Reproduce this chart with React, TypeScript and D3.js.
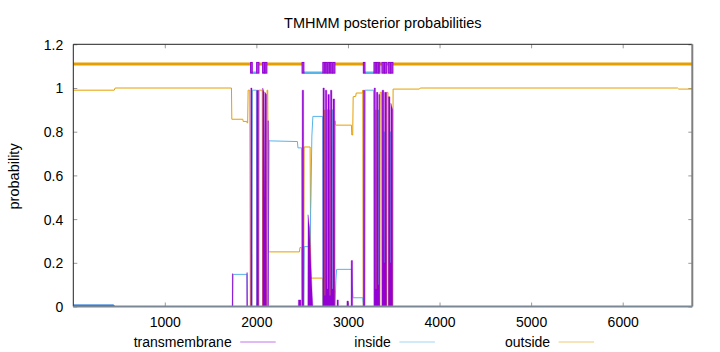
import React, { useEffect, useRef } from 'react';
import * as d3 from 'd3';

type Pt = [number, number];

// [residue, posterior probability] breakpoints
const transmembrane: Pt[] = [
  [1, 0.006], [440, 0.006], [456, 0],
  [1737, 0], [1738, 0.15], [1744, 0.15], [1745, 0],
  [1895, 0], [1896, 0.155], [1901, 0.155], [1902, 0],
  [1938, 0], [1939, 1], [1952, 1], [1953, 0],
  [2003, 0], [2004, 0.99], [2024, 0.99], [2025, 0],
  [2068, 0], [2069, 1], [2085, 0.98], [2088, 0.45], [2094, 0.98], [2110, 0.97], [2111, 0],
  [2125, 0], [2126, 0.85], [2131, 0.85], [2132, 0],
  [2458, 0], [2459, 0.03], [2486, 0.03], [2487, 0],
  [2499, 0], [2500, 0.99], [2516, 0.99], [2517, 0],
  [2562, 0], [2564, 0.42], [2580, 0.36], [2595, 0.2], [2610, 0.05], [2617, 0],
  [2726, 0], [2727, 1], [2742, 1], [2744, 0.05], [2752, 0.05], [2753, 0.99], [2769, 0.99], [2771, 0.08],
  [2780, 0.08], [2781, 0.97], [2797, 0.97], [2799, 0.05], [2808, 0.05], [2809, 0.99], [2825, 0.99], [2827, 0.08],
  [2836, 0.08], [2837, 0.95], [2855, 0.95], [2856, 0],
  [2880, 0], [2881, 0.03], [2895, 0.03], [2896, 0],
  [2988, 0], [2989, 0.025], [3005, 0.025], [3006, 0],
  [3034, 0], [3035, 0.21], [3050, 0.21], [3051, 0],
  [3168, 0], [3169, 0.99], [3183, 0.99], [3184, 0],
  [3285, 0], [3286, 1], [3300, 1], [3302, 0.08], [3310, 0.08], [3311, 0.98], [3327, 0.98], [3329, 0.1],
  [3336, 0.1], [3337, 0.97], [3347, 0.97], [3348, 0],
  [3372, 0], [3373, 0.99], [3391, 0.99], [3393, 0.2], [3400, 0.2], [3401, 0.98], [3421, 0.98], [3422, 0],
  [3441, 0], [3442, 0.96], [3459, 0.96], [3461, 0.2], [3468, 0.2], [3469, 0.93], [3488, 0.9], [3489, 0],
  [6760, 0],
];

const inside: Pt[] = [
  [1, 0.008], [440, 0.008], [456, 0],
  [1738, 0], [1744, 0.147], [1896, 0.147], [1902, 0],
  [1951, 0], [1956, 0.99], [2000, 0.99], [2005, 0],
  [2085, 0], [2089, 0.5], [2094, 0],
  [2124, 0], [2132, 0.3], [2140, 0.76], [2150, 0.758], [2448, 0.755], [2454, 0.726], [2494, 0.726], [2499, 0],
  [2517, 0], [2522, 0.274], [2585, 0.274], [2596, 0.5], [2606, 0.78], [2617, 0.87], [2724, 0.87], [2728, 0],
  [2769, 0], [2773, 0.9], [2779, 0.9], [2782, 0],
  [2825, 0], [2829, 0.9], [2835, 0.9], [2838, 0],
  [2859, 0], [2868, 0.12], [2876, 0.17], [3040, 0.17], [3046, 0.1], [3055, 0.04], [3162, 0.04], [3170, 0],
  [3183, 0], [3188, 0.99], [3281, 0.99], [3286, 0],
  [3327, 0], [3331, 0.9], [3337, 0],
  [3391, 0], [3395, 0.8], [3401, 0],
  [3459, 0], [3463, 0.8], [3469, 0],
  [6760, 0],
];

const outside: Pt[] = [
  [1, 0.99], [448, 0.99], [458, 1], [1728, 1], [1732, 0.857], [1852, 0.857], [1856, 0.847],
  [1895, 0.847], [1900, 0.84], [1905, 0.84], [1910, 0.99], [1928, 0.99], [1934, 0],
  [2026, 0], [2030, 0.99], [2064, 0.99], [2069, 0],
  [2112, 0], [2117, 0.99], [2124, 0.99], [2132, 0.25], [2470, 0.25], [2476, 0.27], [2494, 0.27], [2499, 0],
  [2516, 0], [2521, 0.73], [2587, 0.73], [2594, 0.13], [2724, 0.13], [2728, 0],
  [2743, 0], [2747, 0.9], [2753, 0],
  [2797, 0], [2802, 0.9], [2808, 0],
  [2854, 0], [2860, 0.85], [2866, 0.83], [3038, 0.83], [3042, 0.785], [3052, 0.785], [3057, 0.96],
  [3085, 0.962], [3090, 0.977], [3158, 0.977], [3162, 0.99], [3167, 0],
  [3301, 0], [3305, 0.9], [3311, 0],
  [3347, 0], [3351, 0.98], [3368, 0.98], [3373, 0],
  [3421, 0], [3425, 0.98], [3437, 0.98], [3442, 0],
  [3488, 0], [3493, 0.995], [3780, 0.995], [3790, 1], [6600, 1], [6612, 0.995], [6760, 0.995],
];

// predicted topology shown along the top: [start, end, state]
const topology: [number, number, string][] = [
  [1, 1937, 'out'], [1937, 1955, 'tm'], [1955, 2003, 'in'], [2003, 2028, 'tm'], [2028, 2068, 'out'],
  [2068, 2088, 'tm'], [2088, 2096, 'in'], [2096, 2115, 'tm'], [2115, 2499, 'out'], [2499, 2519, 'tm'],
  [2519, 2726, 'in'], [2726, 2746, 'tm'], [2746, 2752, 'out'], [2752, 2772, 'tm'], [2772, 2779, 'in'],
  [2779, 2800, 'tm'], [2800, 2807, 'out'], [2807, 2828, 'tm'], [2828, 2835, 'in'], [2835, 2858, 'tm'],
  [2858, 3168, 'out'], [3168, 3186, 'tm'], [3186, 3284, 'in'], [3284, 3304, 'tm'], [3304, 3310, 'out'],
  [3310, 3330, 'tm'], [3330, 3336, 'in'], [3336, 3349, 'tm'], [3349, 3371, 'out'], [3371, 3394, 'tm'],
  [3394, 3400, 'in'], [3400, 3424, 'tm'], [3424, 3440, 'out'], [3440, 3462, 'tm'], [3462, 3468, 'in'],
  [3468, 3491, 'tm'], [3491, 6760, 'out'],
];

const seqLength = 6760;
const xTicks = [1000, 2000, 3000, 4000, 5000, 6000];
const yTicks = [0, 0.2, 0.4, 0.6, 0.8, 1, 1.2];
const seriesNames = ['transmembrane', 'inside', 'outside'];

const PURPLE = '#9400d3';
const BLUE = '#56b4e9';
const ORANGE = '#e69f00';

const App: React.FC = () => {
  const chartRef = useRef<SVGSVGElement | null>(null);

  useEffect(() => {
    document.body.style.margin = '0';
    const width = 720;
    const height = 352;
    const margin = { top: 44.3, right: 27.7, bottom: 45.5, left: 73.3 };

    const svg = d3.select(chartRef.current);
    svg.selectAll('*').remove();
    svg.attr('width', width).attr('height', height)
      .style('font-family', '"Liberation Sans", Arial, sans-serif');

    const x = d3.scaleLinear().domain([1, seqLength]).range([margin.left, width - margin.right]);
    const y = d3.scaleLinear().domain([0, 1.2]).range([height - margin.bottom, margin.top]);

    svg.append('defs').append('clipPath').attr('id', 'plot-clip')
      .append('rect')
      .attr('x', margin.left).attr('y', margin.top)
      .attr('width', width - margin.left - margin.right)
      .attr('height', height - margin.top - margin.bottom);

    // ticks (inside, mirrored)
    const yAxis = svg.append('g').attr('transform', `translate(${margin.left},0)`)
      .call(d3.axisLeft(y).tickValues(yTicks).tickSize(-4).tickPadding(10).tickFormat(d3.format('')));
    svg.append('g').attr('transform', `translate(${width - margin.right},0)`)
      .call(d3.axisRight(y).tickValues(yTicks).tickSize(-4).tickFormat(() => ''));
    const xAxis = svg.append('g').attr('transform', `translate(0,${height - margin.bottom})`)
      .call(d3.axisBottom(x).tickValues(xTicks).tickSize(-4).tickPadding(10).tickFormat(d3.format('d')));
    svg.append('g').attr('transform', `translate(0,${margin.top})`)
      .call(d3.axisTop(x).tickValues(xTicks).tickSize(-4).tickFormat(() => ''));
    svg.selectAll('.domain').remove();
    svg.selectAll('.tick line').attr('stroke', '#999');
    svg.selectAll('.tick text').attr('fill', '#000').attr('font-size', 14)
      .attr('font-family', '"Liberation Sans", Arial, sans-serif');
    yAxis.selectAll('.tick text').attr('dy', '0.35em');
    xAxis.selectAll('.tick text').attr('dy', '0.75em');

    const plot = svg.append('g').attr('clip-path', 'url(#plot-clip)');

    const line = d3.line<Pt>().x(d => x(d[0])).y(d => y(d[1]));
    const area = d3.area<Pt>().x(d => x(d[0])).y0(y(0)).y1(d => y(d[1]));

    plot.append('path').datum(outside)
      .attr('d', line).attr('fill', 'none').attr('stroke', ORANGE).attr('stroke-width', 1);
    plot.append('path').datum(inside)
      .attr('d', line).attr('fill', 'none').attr('stroke', BLUE).attr('stroke-width', 1);
    plot.append('path').datum(transmembrane)
      .attr('d', area).attr('fill', PURPLE).attr('stroke', PURPLE)
      .attr('stroke-width', 0.6).attr('stroke-opacity', 0.6);

    // topology line
    plot.selectAll('line.topo')
      .data(topology.filter(d => d[2] !== 'tm'))
      .enter().append('line')
      .attr('x1', d => x(d[0])).attr('x2', d => x(d[1]))
      .attr('y1', d => y(d[2] === 'out' ? 1.11 : 1.07))
      .attr('y2', d => y(d[2] === 'out' ? 1.11 : 1.07))
      .attr('stroke', d => (d[2] === 'out' ? ORANGE : BLUE))
      .attr('stroke-width', d => (d[2] === 'out' ? 3 : 2.5));
    plot.selectAll('rect.tm')
      .data(topology.filter(d => d[2] === 'tm'))
      .enter().append('rect')
      .attr('x', d => x(d[0])).attr('width', d => x(d[1]) - x(d[0]))
      .attr('y', y(1.117)).attr('height', y(1.068) - y(1.117))
      .attr('fill', PURPLE).attr('fill-opacity', 0.75)
      .attr('stroke', PURPLE).attr('stroke-width', 1);

    // border
    const L = margin.left, R = width - margin.right, T = margin.top, B = height - margin.bottom;
    svg.append('line').attr('x1', L).attr('x2', L).attr('y1', T).attr('y2', B).attr('stroke', '#222');
    svg.append('line').attr('x1', L).attr('x2', R).attr('y1', T).attr('y2', T).attr('stroke', '#222');
    svg.append('line').attr('x1', R).attr('x2', R).attr('y1', T).attr('y2', B).attr('stroke', '#7f7f7f').attr('stroke-width', 2);
    svg.append('line').attr('x1', L).attr('x2', R).attr('y1', B).attr('y2', B).attr('stroke', '#7a8794').attr('stroke-width', 2);

    svg.append('text')
      .attr('x', (L + R) / 2).attr('y', 27.5)
      .attr('text-anchor', 'middle').attr('font-size', 14.5)
      .text('TMHMM posterior probabilities');

    svg.append('text')
      .attr('transform', `translate(13.5,${(T + B) / 2 + 1}) rotate(-90)`)
      .attr('text-anchor', 'middle').attr('dy', '0.35em').attr('font-size', 14.5)
      .text('probability');

    // legend
    const legendColors = [PURPLE, BLUE, ORANGE];
    const legend = svg.append('g');
    seriesNames.forEach((name, i) => {
      const tx = 231.7 + i * 159.2;
      legend.append('text')
        .attr('x', tx).attr('y', 342).attr('dy', '0.35em')
        .attr('text-anchor', 'end').attr('font-size', 14)
        .text(name);
      legend.append('line')
        .attr('x1', tx + 8.5).attr('x2', tx + 44)
        .attr('y1', 342).attr('y2', 342)
        .attr('stroke', legendColors[i]).attr('stroke-opacity', 0.55).attr('stroke-width', 1.2);
    });
  }, []);

  return (
    <div>
      <svg ref={chartRef} style={{ display: 'block' }}></svg>
    </div>
  );
};

export default App;
